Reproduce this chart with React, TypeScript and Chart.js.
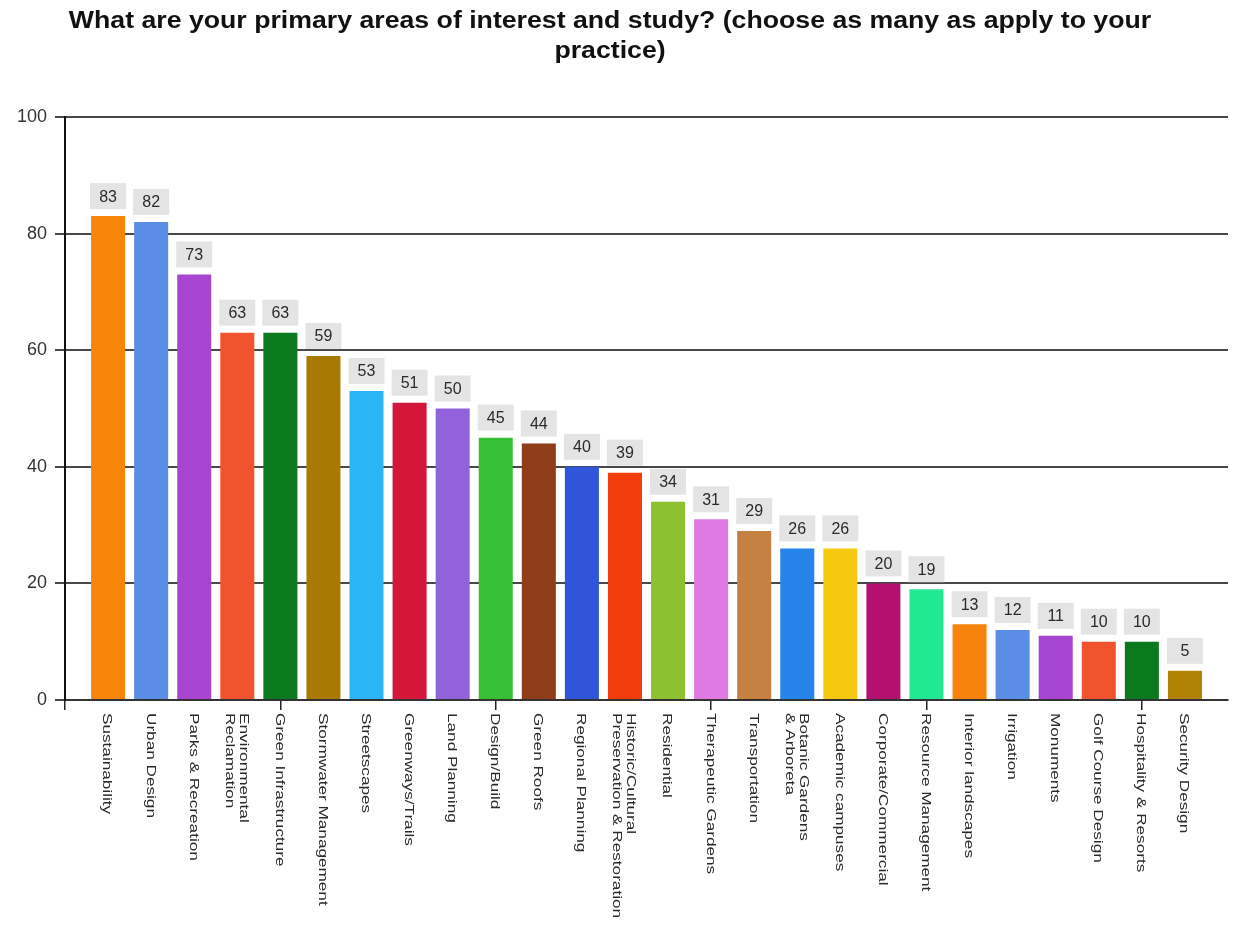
import React, { useEffect, useRef } from "react";
import { Chart, registerables } from "chart.js";

Chart.register(...registerables);

const titleLines = [
  "What are your primary areas of interest and study? (choose as many as apply to your",
  "practice)",
];

const categories = [
  "Sustainability",
  "Urban Design",
  "Parks & Recreation",
  "Environmental\nReclamation",
  "Green Infrastructure",
  "Stormwater Management",
  "Streetscapes",
  "Greenways/Trails",
  "Land Planning",
  "Design/Build",
  "Green Roofs",
  "Regional Planning",
  "Historic/Cultural\nPreservation & Restoration",
  "Residential",
  "Therapeutic Gardens",
  "Transportation",
  "Botanic Gardens\n& Arboreta",
  "Academic campuses",
  "Corporate/Commercial",
  "Resource Management",
  "Interior landscapes",
  "Irrigation",
  "Monuments",
  "Golf Course Design",
  "Hospitality & Resorts",
  "Security Design",
];

const values = [83, 82, 73, 63, 63, 59, 53, 51, 50, 45, 44, 40, 39, 34, 31, 29, 26, 26, 20, 19, 13, 12, 11, 10, 10, 5];

const barColors = [
  "#f5860a",
  "#5a8ee6",
  "#a845d0",
  "#f2532f",
  "#0b7a1f",
  "#a87a02",
  "#2bb5f5",
  "#d3163a",
  "#9162d9",
  "#35c036",
  "#8e3d18",
  "#2f56d8",
  "#f43d0c",
  "#8cc22f",
  "#e07ae3",
  "#c48142",
  "#2683ea",
  "#f5c90f",
  "#b3106f",
  "#22e893",
  "#f5830c",
  "#5a8ee6",
  "#a845d0",
  "#f2532f",
  "#0b7a1f",
  "#b08204",
];

const yTicks = [0, 20, 40, 60, 80, 100];
// tick marks below the axis every 5 slots, counting the empty edge slot
const xTickSlots = [0, 5, 10, 15, 20, 25];

// padded slots: one empty slot on each side of the 26 categories
const slotLabels = ["", ...categories, ""];
const slotValues = [null, ...values, null];
const slotColors = ["#fff", ...barColors, "#fff"];

const FONT = "'Liberation Sans', Arial, sans-serif";

const titlePlugin = {
  id: "customTitle",
  afterDraw(chart: any) {
    const ctx = chart.ctx;
    ctx.save();
    ctx.fillStyle = "#111";
    ctx.font = `bold 23px ${FONT}`;
    ctx.textAlign = "center";
    ctx.textBaseline = "middle";
    const ys = [22, 52];
    titleLines.forEach((line, i) => {
      ctx.save();
      ctx.translate(610, ys[i]);
      ctx.scale(1.16, 1);
      ctx.fillText(line, 0, 0);
      ctx.restore();
    });
    ctx.restore();
  },
};

const xLabelPlugin = {
  id: "xLabels",
  afterDraw(chart: any) {
    const ctx = chart.ctx;
    const xs = chart.scales.x;
    const top = chart.chartArea.bottom + 13;
    ctx.save();
    ctx.fillStyle = "#2a2a2a";
    ctx.font = `13px ${FONT}`;
    ctx.textAlign = "left";
    ctx.textBaseline = "middle";
    categories.forEach((label, i) => {
      const lines = label.split("\n");
      const x = xs.getPixelForValue(i + 1) - 1;
      const lh = 14;
      ctx.save();
      ctx.translate(x, top);
      ctx.rotate(Math.PI / 2);
      ctx.scale(1.32, 1);
      lines.forEach((ln, j) => {
        const off = -((lines.length - 1) * lh) / 2 + j * lh;
        ctx.fillText(ln, 0, off);
      });
      ctx.restore();
    });
    ctx.restore();
  },
};

const valueLabelPlugin = {
  id: "valueLabels",
  afterDatasetsDraw(chart: any) {
    const ctx = chart.ctx;
    const meta = chart.getDatasetMeta(0);
    ctx.save();
    ctx.font = `16px ${FONT}`;
    ctx.textAlign = "center";
    ctx.textBaseline = "middle";
    meta.data.forEach((bar: any, i: number) => {
      const v = slotValues[i];
      if (v === null || v === undefined) return;
      const bx = bar.x;
      const by = bar.y;
      const w = 36;
      const h = 26;
      const bottom = by - 7;
      ctx.fillStyle = "#e4e4e4";
      ctx.fillRect(bx - w / 2, bottom - h, w, h);
      ctx.fillStyle = "#2a2a2a";
      ctx.fillText(String(v), bx, bottom - h / 2 + 1);
    });
    ctx.restore();
  },
};

export default function App() {
  const canvasRef = useRef<HTMLCanvasElement | null>(null);

  useEffect(() => {
    const canvas = canvasRef.current;
    if (!canvas) return;
    const chart = new Chart(canvas, {
      type: "bar",
      data: {
        labels: slotLabels,
        datasets: [
          {
            data: slotValues,
            backgroundColor: slotColors,
            borderWidth: 0,
            barPercentage: 0.79,
            categoryPercentage: 1,
          } as any,
        ],
      },
      options: {
        animation: false,
        responsive: false,
        layout: { padding: { top: 117, left: 8, right: 7, bottom: 0 } },
        plugins: {
          legend: { display: false },
          title: { display: false },
          tooltip: { enabled: false },
        },
        scales: {
          x: {
            type: "category",
            offset: false,
            afterBuildTicks: (axis: any) => {
              axis.ticks = xTickSlots.map((v) => ({ value: v }));
            },
            afterFit: (scale: any) => {
              scale.height = 226;
            },
            ticks: { display: false },
            grid: {
              display: true,
              offset: false,
              drawOnChartArea: false,
              drawTicks: true,
              tickLength: 10,
              color: "#222",
              lineWidth: 1.5,
            },
            border: { display: true, color: "#333", width: 2 },
          },
          y: {
            min: 0,
            max: 100,
            afterBuildTicks: (axis: any) => {
              axis.ticks = yTicks.map((v) => ({ value: v }));
            },
            afterFit: (scale: any) => {
              scale.width = 57;
            },
            ticks: {
              font: { family: FONT, size: 18 },
              color: "#333",
              padding: 8,
            },
            grid: {
              color: "#484848",
              lineWidth: 2,
              tickLength: 10,
            },
            border: { display: true, color: "#111", width: 2 },
          },
        },
      },
      plugins: [titlePlugin, xLabelPlugin, valueLabelPlugin],
    });
    return () => chart.destroy();
  }, []);

  return (
    <div style={{ position: "absolute", left: 0, top: 0, width: 1235, height: 926, background: "#fff" }}>
      <canvas ref={canvasRef} width={1235} height={926} style={{ display: "block" }} />
    </div>
  );
}
